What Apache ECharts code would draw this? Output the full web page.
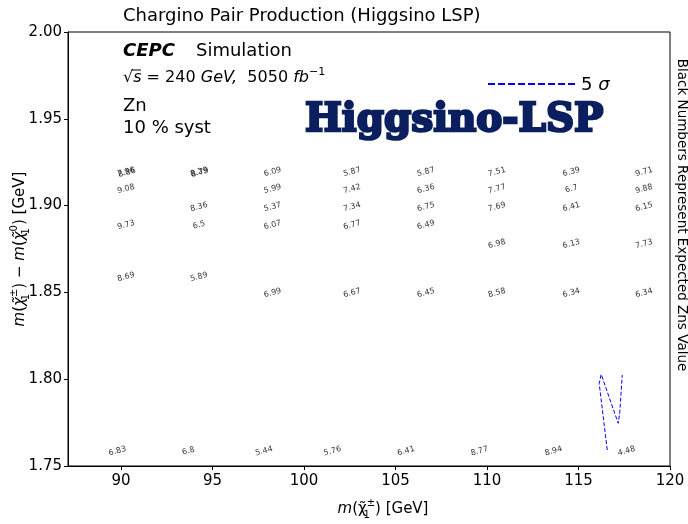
<!DOCTYPE html>
<html>
<head>
<meta charset="utf-8">
<title>Chargino Pair Production (Higgsino LSP)</title>
<script src="https://cdn.jsdelivr.net/npm/echarts@6.0.0/dist/echarts.min.js"></script>
<style>
  html, body { margin: 0; padding: 0; background: #fff; }
  #chart { width: 688px; height: 524px; }
</style>
</head>
<body>
<div id="chart"></div>
<script>
// Axis ticks
const xTicks = [90, 95, 100, 105, 110, 115, 120];
const yTicks = [1.75, 1.80, 1.85, 1.90, 1.95, 2.00];

// Label anchor positions (chargino mass, GeV) for the scan columns
const massUpper = [90.27, 94.26, 98.28, 102.62, 106.66, 110.54, 114.61, 118.58];
const massLower = [89.80, 93.68, 97.81, 101.55, 105.57, 109.59, 113.63, 117.62];

// Mass splitting rows (GeV) and the expected Zn at each scan point
const dmRows = [1.9194, 1.9096, 1.8992, 1.8888, 1.8779, 1.8589, 1.8497];
const znRows = [
  [7.96, 8.29, 6.09, 5.87, 5.87, 7.51, 6.39, 9.71],
  [9.08, null, 5.99, 7.42, 6.36, 7.77, 6.7, 9.88],
  [null, 8.36, 5.37, 7.34, 6.75, 7.69, 6.41, 6.15],
  [9.73, 6.5, 6.07, 6.77, 6.49, null, null, null],
  [null, null, null, null, null, 6.98, 6.13, 7.73],
  [8.69, 5.89, null, null, null, null, null, null],
  [null, null, 6.99, 6.67, 6.45, 8.58, 6.34, 6.34]
];
// Second points sharing the top row in the first two columns
const dmOverlap = 1.9190;
const znOverlap = [8.86, 8.79];
// Lowest row of the scan
const dmBottom = 1.7586;
const znBottom = [6.83, 6.8, 5.44, 5.76, 6.41, 8.77, 8.94, 4.48];

// 5 sigma contour
const contourMass = [116.57, 116.13, 116.24, 117.17, 117.26, 117.39];
const contourDm = [1.7592, 1.7976, 1.8028, 1.7746, 1.7813, 1.8024];

const labelPoints = [];
dmRows.forEach((dm, r) => {
  znRows[r].forEach((z, c) => {
    if (z !== null) labelPoints.push([massUpper[c], dm, z]);
  });
});
znOverlap.forEach((z, c) => labelPoints.push([massUpper[c] + 0.05, dmOverlap, z]));
znBottom.forEach((z, c) => labelPoints.push([massLower[c], dmBottom, z]));

const contour = contourMass.map((m, i) => [m, contourDm[i]]);

const FONT = 'DejaVu Sans';
const chart = echarts.init(document.getElementById('chart'), null, { renderer: 'canvas' });

const axisCommon = {
  type: 'value',
  axisLine: { show: true, lineStyle: { color: '#000', width: 1 } },
  splitLine: { show: false }
};

const mathRich = {
  i: { fontFamily: FONT, fontStyle: 'italic', fontSize: 15, color: '#000', lineHeight: 22 },
  sub: { fontFamily: FONT, fontSize: 10, color: '#000', lineHeight: 10, verticalAlign: 'bottom', width: 0, align: 'left' },
  sup: { fontFamily: FONT, fontSize: 10, color: '#000', lineHeight: 10, verticalAlign: 'top' }
};

const option = {
  animation: false,
  backgroundColor: '#fff',
  grid: { left: 68, right: 18, top: 32, bottom: 58, show: true, borderColor: '#000', borderWidth: 1, backgroundColor: 'transparent' },
  xAxis: Object.assign({}, axisCommon, {
    min: 87.1, max: 120,
    axisTick: { show: true, inside: false, length: 4, customValues: xTicks, lineStyle: { color: '#000' } },
    axisLabel: { customValues: xTicks, color: '#000', fontSize: 15, fontFamily: FONT, margin: 8 }
  }),
  yAxis: Object.assign({}, axisCommon, {
    min: 1.75, max: 2.0,
    axisTick: { show: true, inside: false, length: 4, customValues: yTicks, lineStyle: { color: '#000' } },
    axisLabel: { customValues: yTicks, color: '#000', fontSize: 15, fontFamily: FONT, margin: 6,
      formatter: v => Number(v).toFixed(2) }
  }),
  series: [
    {
      type: 'scatter',
      data: labelPoints,
      symbolSize: 2,
      itemStyle: { color: 'rgba(0,0,0,0)' },
      silent: true,
      label: {
        show: true,
        position: 'inside',
        rotate: 15,
        color: '#000',
        fontFamily: FONT,
        fontSize: 8,
        formatter: p => String(p.value[2])
      },
      labelLayout: { hideOverlap: false }
    },
    {
      type: 'line',
      data: contour,
      symbol: 'none',
      smooth: false,
      lineStyle: { color: '#0000ff', width: 1, type: [4, 2] },
      silent: true
    }
  ],
  graphic: [
    { type: 'text', x: 123, y: 16, style: { text: 'Chargino Pair Production (Higgsino LSP)', fontFamily: FONT, fontSize: 18, fill: '#000', verticalAlign: 'middle', align: 'left' } },
    { type: 'text', x: 123, y: 51, style: { text: 'CEPC', fontFamily: FONT, fontSize: 18, fontWeight: 'bold', fontStyle: 'italic', fill: '#000', verticalAlign: 'middle' } },
    { type: 'text', x: 196, y: 51, style: { text: 'Simulation', fontFamily: FONT, fontSize: 18, fill: '#000', verticalAlign: 'middle' } },
    { type: 'text', x: 123, y: 78, style: {
        text: '√{i|s} = 240 {i|GeV,}  5050 {i|fb}{sup|−1}',
        fontFamily: FONT, fontSize: 16, fill: '#000', verticalAlign: 'middle',
        rich: {
          i: { fontFamily: FONT, fontStyle: 'italic', fontSize: 16, lineHeight: 22 },
          sup: { fontFamily: FONT, fontSize: 11, lineHeight: 11, verticalAlign: 'top' }
        }
      } },
    { type: 'line', shape: { x1: 132, y1: 70, x2: 141, y2: 70 }, style: { stroke: '#000', lineWidth: 1 } },
    { type: 'text', x: 123, y: 106, style: { text: 'Zn', fontFamily: FONT, fontSize: 18, fill: '#000', verticalAlign: 'middle' } },
    { type: 'text', x: 123, y: 128, style: { text: '10 % syst', fontFamily: FONT, fontSize: 18, fill: '#000', verticalAlign: 'middle' } },
    { type: 'text', x: 305, y: 121, style: { text: 'Higgsino-LSP', fontFamily: 'DejaVu Serif', fontSize: 39, fontWeight: 'bold', fill: '#0b1f5e', stroke: '#0b1f5e', lineWidth: 2.5, verticalAlign: 'middle' } },
    { type: 'line', shape: { x1: 488, y1: 84, x2: 577, y2: 84 }, style: { stroke: '#0000ff', lineWidth: 2, lineDash: [7, 3] } },
    { type: 'text', x: 581, y: 85, style: { text: '5 {i|σ}', fontFamily: FONT, fontSize: 18, fill: '#000', verticalAlign: 'middle',
        rich: { i: { fontFamily: FONT, fontStyle: 'italic', fontSize: 18 } } } },
    { type: 'text', x: 681, y: 215, rotation: -Math.PI / 2, style: { text: 'Black Numbers Represent Expected Zns Value', fontFamily: FONT, fontSize: 13.5, fill: '#000', align: 'center', verticalAlign: 'middle' } },
    { type: 'text', x: 383, y: 509, style: {
        text: '{i|m}(χ̃{sub|1}{sup|±}) [GeV]',
        fontFamily: FONT, fontSize: 15, fill: '#000', align: 'center', verticalAlign: 'middle', rich: mathRich } },
    { type: 'text', x: 20, y: 249, rotation: Math.PI / 2, style: {
        text: '{i|m}({i|χ̃}{sub|1}{sup|±}) − {i|m}({i|χ̃}{sub|1}{sup|0}) [GeV]',
        fontFamily: FONT, fontSize: 15, fill: '#000', align: 'center', verticalAlign: 'middle', rich: mathRich } }
  ]
};

chart.setOption(option);
</script>
</body>
</html>
